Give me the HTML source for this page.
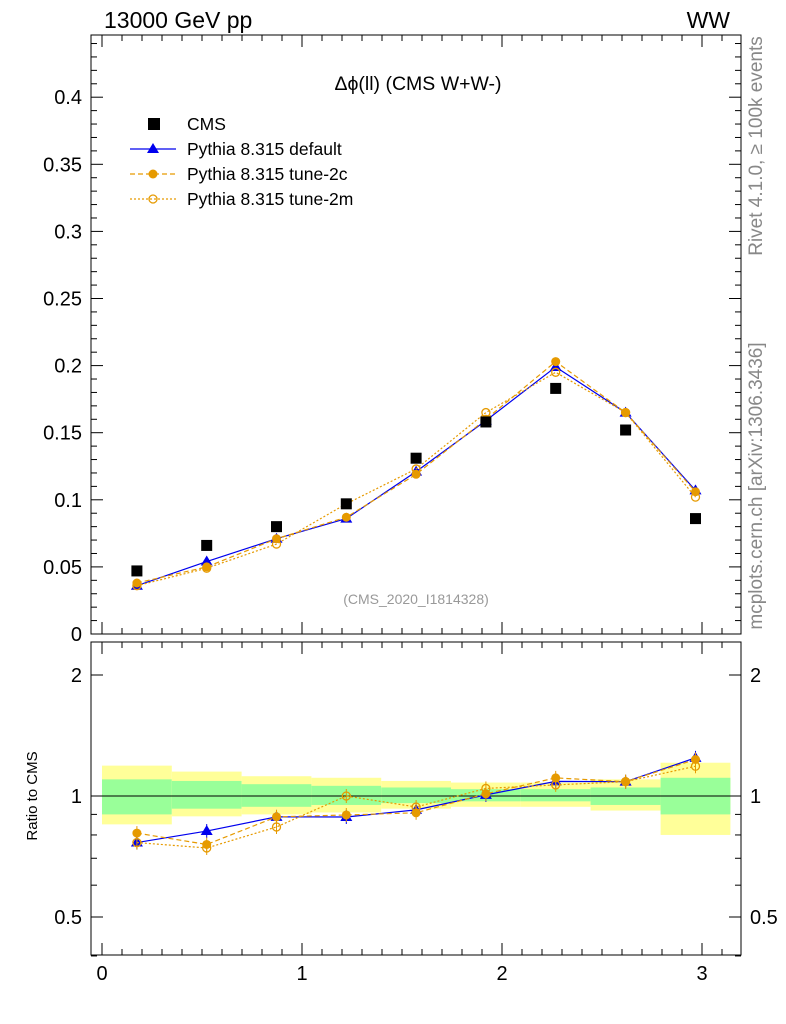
<!DOCTYPE html>
<html><head><meta charset="utf-8"><style>
html,body{margin:0;padding:0;background:#fff;}
svg{display:block;font-family:"Liberation Sans",sans-serif;}
</style></head><body>
<svg id="c" width="786" height="1024" xmlns="http://www.w3.org/2000/svg"></svg>
<script>
const binEdges=[0,0.349,0.698,1.047,1.396,1.745,2.094,2.443,2.793,3.142];
const cmsVals=[0.047,0.066,0.080,0.097,0.131,0.158,0.183,0.152,0.086];
const defVals=[0.036,0.054,0.071,0.086,0.121,0.159,0.199,0.165,0.107];
const tune2cVals=[0.038,0.050,0.071,0.087,0.119,0.160,0.203,0.165,0.106];
const tune2mVals=[0.036,0.049,0.067,0.097,0.123,0.165,0.195,0.165,0.102];
const yellowHi=[1.19,1.15,1.12,1.11,1.09,1.08,1.08,1.10,1.21];
const yellowLo=[0.85,0.89,0.90,0.91,0.93,0.94,0.94,0.92,0.80];
const greenHi=[1.10,1.09,1.07,1.06,1.05,1.04,1.04,1.05,1.11];
const greenLo=[0.90,0.93,0.94,0.95,0.96,0.97,0.97,0.95,0.90];
const xTicks=[0,1,2,3];
const yTicks=[0,0.05,0.1,0.15,0.2,0.25,0.3,0.35,0.4];
const yTickLabels=["0","0.05","0.1","0.15","0.2","0.25","0.3","0.35","0.4"];
const rTicks=[0.5,1,2];
const rTickLabels=["0.5","1","2"];

const NS="http://www.w3.org/2000/svg";
const svg=document.getElementById('c');
function el(t,a,p){const e=document.createElementNS(NS,t);for(const k in a)e.setAttribute(k,a[k]);(p||svg).appendChild(e);return e;}
function txt(s,a,p){const e=el('text',a,p);e.textContent=s;return e;}
const L=91,R=741,T1=35,B1=634,T2=642,B2=955;
const X=v=>102+v*200;
const Y=v=>634-v*1342;
const RY=v=>796-Math.log2(v)*121;

for(let i=0;i<9;i++){
  const x0=X(binEdges[i]),x1=X(binEdges[i+1]);
  const y=el('rect',{x:x0,y:RY(yellowHi[i]),width:x1-x0,height:RY(yellowLo[i])-RY(yellowHi[i]),fill:'#ffff99'});
  
  const g=el('rect',{x:x0,y:RY(greenHi[i]),width:x1-x0,height:RY(greenLo[i])-RY(greenHi[i]),fill:'#99ff99'});
  
}
el('line',{x1:L,x2:R,y1:RY(1),y2:RY(1),stroke:'#000','stroke-width':1});

const f1=el('rect',{x:L,y:T1,width:R-L,height:B1-T1,fill:'none',stroke:'#000','stroke-width':1});

const f2=el('rect',{x:L,y:T2,width:R-L,height:B2-T2,fill:'none',stroke:'#000','stroke-width':1});


for(let v=-0.0;v<=3.2;v+=0.1){
  const m=Math.abs(v-Math.round(v))<1e-6;const len=m?12:6;const x=X(v);
  [[T1,1],[B1,-1],[T2,1],[B2,-1]].forEach(([y,d])=>el('line',{x1:x,x2:x,y1:y,y2:y+d*len,stroke:'#000'}));
}
xTicks.forEach(v=>{const t=txt(String(v),{x:X(v),y:980,'font-size':20,'text-anchor':'middle'});
 });
for(let v=0;v<=0.445;v+=0.01){const m=Math.abs(v/0.05-Math.round(v/0.05))<1e-6;const len=m?12:6;const y=Y(v);
 el('line',{x1:L,x2:L+len,y1:y,y2:y,stroke:'#000'});el('line',{x1:R,x2:R-len,y1:y,y2:y,stroke:'#000'});}
yTicks.forEach((v,i)=>{const t=txt(yTickLabels[i],{x:82,y:Y(v)+7,'font-size':20,'text-anchor':'end'});
 });
[0.4,0.5,0.6,0.7,0.8,0.9,1,2].forEach(v=>{const m=rTicks.includes(v);const len=m?12:6;const y=RY(v);
 el('line',{x1:L,x2:L+len,y1:y,y2:y,stroke:'#000'});el('line',{x1:R,x2:R-len,y1:y,y2:y,stroke:'#000'});});
rTicks.forEach((v,i)=>{let t=txt(rTickLabels[i],{x:82,y:RY(v)+7,'font-size':20,'text-anchor':'end'});
 
 t=txt(rTickLabels[i],{x:750,y:RY(v)+7,'font-size':20});
 });

const centers=binEdges.slice(0,9).map((e,i)=>(e+binEdges[i+1])/2);
const series=[
 {name:'default',vals:defVals,col:'#0000ee',dash:'',mk:'tri'},
 {name:'tune-2c',vals:tune2cVals,col:'#e69a00',dash:'5,3',mk:'dot'},
 {name:'tune-2m',vals:tune2mVals,col:'#e69a00',dash:'2,2',mk:'ring'}];
function marker(kind,x,y,col,g){
 if(kind==='tri')return el('polygon',{points:`${x},${y-6} ${x-6},${y+4} ${x+6},${y+4}`,fill:col},g);
 if(kind==='dot')return el('circle',{cx:x,cy:y,r:4.5,fill:col},g);
 return el('circle',{cx:x,cy:y,r:4,fill:'none',stroke:col,'stroke-width':1.3},g);
}
series.forEach(s=>{
 const g=el('g',{});
 const pts=centers.map((c,i)=>X(c)+','+Y(s.vals[i])).join(' ');
 el('polyline',{points:pts,fill:'none',stroke:s.col,'stroke-dasharray':s.dash,'stroke-width':1.2},g);
 const rpts=centers.map((c,i)=>X(c)+','+RY(s.vals[i]/cmsVals[i])).join(' ');
 el('polyline',{points:rpts,fill:'none',stroke:s.col,'stroke-dasharray':s.dash,'stroke-width':1.2},g);
 centers.forEach((c,i)=>{
  const m=marker(s.mk,X(c),Y(s.vals[i]),s.col,g);
  const ry=RY(s.vals[i]/cmsVals[i]);
  el('line',{x1:X(c),x2:X(c),y1:ry-7,y2:ry+7,stroke:s.col},g);
  const r=marker(s.mk,X(c),ry,s.col,g);
 });
});
centers.forEach((c,i)=>{const r=el('rect',{x:X(c)-5.5,y:Y(cmsVals[i])-5.5,width:11,height:11,fill:'#000'});
 });

const lg=el('g',{});
const rows=[['CMS','sq'],['Pythia 8.315 default',0],['Pythia 8.315 tune-2c',1],['Pythia 8.315 tune-2m',2]];
rows.forEach((r,i)=>{const y=124+i*25;
 if(r[1]==='sq')el('rect',{x:148,y:y-6,width:12,height:12,fill:'#000'},lg);
 else{const s=series[r[1]];el('line',{x1:130,x2:176,y1:y,y2:y,stroke:s.col,'stroke-dasharray':s.dash,'stroke-width':1.2},lg);marker(s.mk,153,y,s.col,lg);}
 const t=txt(r[0],{x:187,y:y+6,'font-size':17.5},lg);});

let t=txt('13000 GeV pp',{x:104,y:28,'font-size':23});
t=txt('WW',{x:730,y:28,'font-size':23,'text-anchor':'end'});
t=txt('\u0394\u03d5(ll) (CMS W+W-)',{x:418,y:90,'font-size':19.5,'text-anchor':'middle'});
t=txt('(CMS_2020_I1814328)',{x:416,y:604,'font-size':14,fill:'#999','text-anchor':'middle'});
t=txt('Ratio to CMS',{x:0,y:0,'font-size':15,'text-anchor':'middle',transform:'translate(37,796) rotate(-90)'});
t=txt('Rivet 4.1.0, \u2265 100k events',{x:0,y:0,'font-size':19,fill:'#888','text-anchor':'middle',transform:'translate(762,146) rotate(-90)'});
t=txt('mcplots.cern.ch [arXiv:1306.3436]',{x:0,y:0,'font-size':19,fill:'#888','text-anchor':'middle',transform:'translate(762,486) rotate(-90)'});
</script>
</body></html>
